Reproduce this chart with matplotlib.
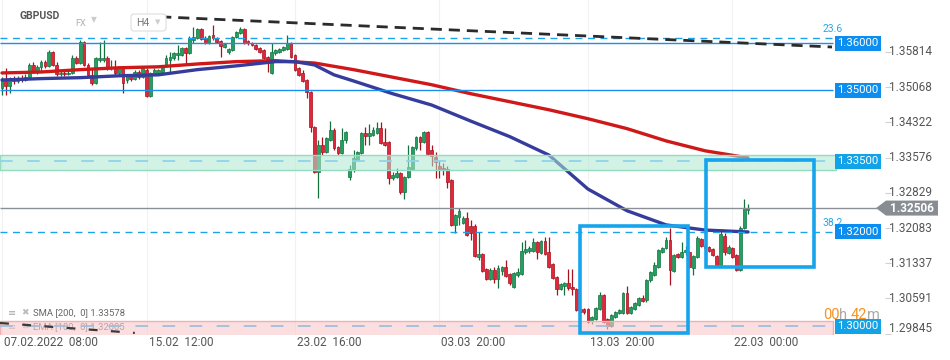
import numpy as np
import matplotlib.pyplot as plt
from matplotlib.colors import to_rgba
from matplotlib.patches import Polygon, Rectangle, FancyBboxPatch
from matplotlib.transforms import IdentityTransform
from matplotlib.offsetbox import TextArea, HPacker, AnnotationBbox

plt.rcParams['font.family'] = ['Roboto', 'DejaVu Sans']

# GBPUSD H4 candles
opens = [1.3505, 1.3522, 1.3510, 1.3525, 1.3520, 1.3527, 1.3522, 1.3529, 1.3554, 1.3539,
         1.3550, 1.3561, 1.3552, 1.3582, 1.3554, 1.3535, 1.3537, 1.3535, 1.3537, 1.3569,
         1.3558, 1.3603, 1.3554, 1.3533, 1.3516, 1.3565, 1.3565, 1.3569, 1.3548, 1.3550,
         1.3537, 1.3548, 1.3522, 1.3531, 1.3525, 1.3539, 1.3529, 1.3544, 1.3488, 1.3535,
         1.3537, 1.3539, 1.3552, 1.3565, 1.3569, 1.3575, 1.3575, 1.3590, 1.3580, 1.3607,
         1.3611, 1.3631, 1.3611, 1.3601, 1.3618, 1.3611, 1.3605, 1.3592, 1.3582, 1.3586,
         1.3614, 1.3622, 1.3631, 1.3605, 1.3601, 1.3597, 1.3590, 1.3586, 1.3571, 1.3537,
         1.3580, 1.3582, 1.3586, 1.3588, 1.3601, 1.3575, 1.3548, 1.3537, 1.3522, 1.3497,
         1.3423, 1.3327, 1.3385, 1.3370, 1.3395, 1.3416, 1.3380, 1.3368, 1.3395, 1.3317,
         1.3334, 1.3353, 1.3368, 1.3410, 1.3404, 1.3406, 1.3410, 1.3421, 1.3391, 1.3391,
         1.3315, 1.3317, 1.3325, 1.3285, 1.3317, 1.3334, 1.3378, 1.3402, 1.3391, 1.3412,
         1.3374, 1.3359, 1.3340, 1.3336, 1.3334, 1.3310, 1.3215, 1.3232, 1.3219,
         1.3230, 1.3213, 1.3213, 1.3147, 1.3154, 1.3122, 1.3101, 1.3120, 1.3101, 1.3118,
         1.3126, 1.3111, 1.3084, 1.3109, 1.3111, 1.3158, 1.3160, 1.3160, 1.3179, 1.3156,
         1.3181, 1.3158, 1.3132, 1.3105, 1.3079, 1.3086, 1.3092, 1.3084, 1.3079, 1.3037,
         1.3037, 1.3037, 1.3012, 1.3016, 1.3037, 1.3067, 1.3016, 1.3001, 1.3020, 1.3028,
         1.3028, 1.3071, 1.3028, 1.3037, 1.3045, 1.3060, 1.3056, 1.3098, 1.3109, 1.3126,
         1.3158, 1.3166, 1.3183, 1.3118, 1.3154, 1.3147, 1.3158, 1.3158, 1.3124, 1.3147,
         1.3185, 1.3170, 1.3168, 1.3164, 1.3149, 1.3130, 1.3192, 1.3156, 1.3166, 1.3151,
         1.3120, 1.3209, 1.3247]
highs = [1.3529, 1.3548, 1.3529, 1.3531, 1.3531, 1.3533, 1.3535, 1.3558, 1.3561, 1.3554,
         1.3565, 1.3565, 1.3586, 1.3584, 1.3561, 1.3541, 1.3541, 1.3541, 1.3575, 1.3573,
         1.3607, 1.3605, 1.3558, 1.3548, 1.3571, 1.3603, 1.3607, 1.3573, 1.3565, 1.3565,
         1.3552, 1.3550, 1.3535, 1.3533, 1.3544, 1.3544, 1.3552, 1.3548, 1.3539, 1.3548,
         1.3546, 1.3552, 1.3575, 1.3582, 1.3582, 1.3597, 1.3592, 1.3592, 1.3616, 1.3635,
         1.3633, 1.3633, 1.3616, 1.3618, 1.3639, 1.3614, 1.3607, 1.3601, 1.3590, 1.3616,
         1.3626, 1.3635, 1.3633, 1.3607, 1.3603, 1.3599, 1.3592, 1.3588, 1.3573, 1.3601,
         1.3588, 1.3590, 1.3595, 1.3618, 1.3603, 1.3577, 1.3550, 1.3544, 1.3525, 1.3499,
         1.3425, 1.3395, 1.3402, 1.3402, 1.3436, 1.3421, 1.3383, 1.3421, 1.3414, 1.3342,
         1.3374, 1.3372, 1.3412, 1.3423, 1.3429, 1.3423, 1.3433, 1.3433, 1.3421, 1.3393,
         1.3327, 1.3336, 1.3327, 1.3319, 1.3385, 1.3383, 1.3404, 1.3404, 1.3414, 1.3414,
         1.3385, 1.3370, 1.3353, 1.3346, 1.3340, 1.3313, 1.3238, 1.3251, 1.3234,
         1.3243, 1.3226, 1.3217, 1.3200, 1.3156, 1.3124, 1.3124, 1.3126, 1.3130, 1.3128,
         1.3141, 1.3113, 1.3115, 1.3124, 1.3179, 1.3183, 1.3170, 1.3187, 1.3181, 1.3183,
         1.3190, 1.3190, 1.3134, 1.3107, 1.3092, 1.3094, 1.3122, 1.3122, 1.3081, 1.3039,
         1.3039, 1.3039, 1.3022, 1.3041, 1.3073, 1.3069, 1.3018, 1.3026, 1.3033, 1.3037,
         1.3073, 1.3086, 1.3043, 1.3052, 1.3062, 1.3067, 1.3101, 1.3118, 1.3137, 1.3164,
         1.3168, 1.3190, 1.3209, 1.3154, 1.3156, 1.3179, 1.3170, 1.3160, 1.3151, 1.3192,
         1.3187, 1.3175, 1.3170, 1.3166, 1.3151, 1.3206, 1.3198, 1.3173, 1.3168, 1.3154,
         1.3213, 1.3270, 1.3260]
lows = [1.3491, 1.3491, 1.3494, 1.3514, 1.3516, 1.3518, 1.3520, 1.3525, 1.3537, 1.3535,
        1.3539, 1.3548, 1.3550, 1.3552, 1.3531, 1.3531, 1.3531, 1.3533, 1.3535, 1.3556,
        1.3556, 1.3552, 1.3531, 1.3512, 1.3514, 1.3561, 1.3561, 1.3544, 1.3544, 1.3533,
        1.3533, 1.3494, 1.3516, 1.3520, 1.3522, 1.3525, 1.3527, 1.3486, 1.3486, 1.3533,
        1.3533, 1.3537, 1.3550, 1.3539, 1.3565, 1.3565, 1.3573, 1.3554, 1.3577, 1.3601,
        1.3609, 1.3607, 1.3599, 1.3599, 1.3607, 1.3601, 1.3571, 1.3590, 1.3577, 1.3584,
        1.3611, 1.3620, 1.3599, 1.3597, 1.3595, 1.3586, 1.3580, 1.3567, 1.3539, 1.3535,
        1.3575, 1.3580, 1.3584, 1.3586, 1.3569, 1.3541, 1.3531, 1.3518, 1.3484, 1.3412,
        1.3325, 1.3272, 1.3363, 1.3368, 1.3393, 1.3374, 1.3363, 1.3365, 1.3389, 1.3310,
        1.3327, 1.3351, 1.3365, 1.3385, 1.3385, 1.3404, 1.3408, 1.3387, 1.3383, 1.3302,
        1.3310, 1.3315, 1.3281, 1.3270, 1.3315, 1.3332, 1.3374, 1.3374, 1.3389, 1.3363,
        1.3340, 1.3315, 1.3315, 1.3321, 1.3293, 1.3213, 1.3198, 1.3215, 1.3217,
        1.3192, 1.3183, 1.3147, 1.3141, 1.3115, 1.3098, 1.3098, 1.3092, 1.3081, 1.3109,
        1.3105, 1.3088, 1.3081, 1.3105, 1.3109, 1.3154, 1.3156, 1.3158, 1.3143, 1.3154,
        1.3151, 1.3124, 1.3101, 1.3067, 1.3077, 1.3067, 1.3077, 1.3067, 1.3033, 1.3028,
        1.3026, 1.3007, 1.3005, 1.3014, 1.3035, 1.3007, 1.2995, 1.2999, 1.3018, 1.3026,
        1.3026, 1.3026, 1.3026, 1.3035, 1.3043, 1.3052, 1.3052, 1.3094, 1.3107, 1.3124,
        1.3156, 1.3164, 1.3088, 1.3115, 1.3145, 1.3145, 1.3151, 1.3124, 1.3109, 1.3145,
        1.3168, 1.3162, 1.3158, 1.3149, 1.3128, 1.3128, 1.3151, 1.3154, 1.3145, 1.3118,
        1.3118, 1.3206, 1.3238]
closes = [1.3522, 1.3510, 1.3525, 1.3520, 1.3527, 1.3522, 1.3529, 1.3554, 1.3539, 1.3550,
          1.3561, 1.3552, 1.3582, 1.3554, 1.3535, 1.3537, 1.3535, 1.3537, 1.3569, 1.3558,
          1.3603, 1.3554, 1.3533, 1.3516, 1.3569, 1.3569, 1.3569, 1.3548, 1.3550, 1.3537,
          1.3548, 1.3516, 1.3531, 1.3525, 1.3539, 1.3529, 1.3548, 1.3488, 1.3537, 1.3544,
          1.3544, 1.3548, 1.3569, 1.3571, 1.3580, 1.3580, 1.3590, 1.3580, 1.3611, 1.3614,
          1.3631, 1.3609, 1.3601, 1.3616, 1.3611, 1.3603, 1.3595, 1.3599, 1.3588, 1.3614,
          1.3624, 1.3631, 1.3601, 1.3601, 1.3597, 1.3588, 1.3582, 1.3569, 1.3558, 1.3582,
          1.3586, 1.3588, 1.3592, 1.3601, 1.3571, 1.3544, 1.3533, 1.3520, 1.3497, 1.3423,
          1.3327, 1.3385, 1.3370, 1.3399, 1.3416, 1.3378, 1.3368, 1.3395, 1.3412, 1.3334,
          1.3357, 1.3370, 1.3410, 1.3404, 1.3410, 1.3416, 1.3421, 1.3389, 1.3385, 1.3315,
          1.3321, 1.3325, 1.3285, 1.3317, 1.3338, 1.3380, 1.3402, 1.3391, 1.3412, 1.3365,
          1.3361, 1.3349, 1.3334, 1.3332, 1.3306, 1.3215, 1.3236, 1.3245, 1.3230,
          1.3194, 1.3198, 1.3149, 1.3154, 1.3118, 1.3101, 1.3120, 1.3101, 1.3124, 1.3126,
          1.3107, 1.3092, 1.3113, 1.3115, 1.3160, 1.3164, 1.3166, 1.3179, 1.3158, 1.3181,
          1.3154, 1.3126, 1.3103, 1.3079, 1.3090, 1.3092, 1.3081, 1.3079, 1.3035, 1.3031,
          1.3031, 1.3010, 1.3020, 1.3039, 1.3067, 1.3010, 1.3001, 1.3024, 1.3031, 1.3035,
          1.3071, 1.3028, 1.3041, 1.3050, 1.3060, 1.3054, 1.3098, 1.3115, 1.3130, 1.3162,
          1.3166, 1.3183, 1.3120, 1.3151, 1.3147, 1.3158, 1.3162, 1.3126, 1.3149, 1.3187,
          1.3170, 1.3166, 1.3160, 1.3151, 1.3130, 1.3196, 1.3158, 1.3168, 1.3147, 1.3120,
          1.3209, 1.3251, 1.3251]

# moving averages, sampled at some bars
sma_bars = [0, 10, 20, 30, 40, 50, 60, 70, 80, 90, 100, 110, 120, 130, 140, 150, 160, 170, 180, 191]
sma200 = [1.3537, 1.3539, 1.3544, 1.3548, 1.3550, 1.3556, 1.3561, 1.3563, 1.3558, 1.3544,
          1.3528, 1.3512, 1.3493, 1.3476, 1.3459, 1.3440, 1.3419, 1.3393, 1.3372, 1.3357]
ema_bars = [0, 10, 20, 30, 40, 50, 60, 70, 75, 80, 85, 90, 100, 110, 120, 130, 140, 150, 155,
            160, 170, 180, 191]
ema100 = [1.3522, 1.3525, 1.3527, 1.3531, 1.3533, 1.3544, 1.3552, 1.3561, 1.3561, 1.3554,
          1.3533, 1.3520, 1.3493, 1.3469, 1.3435, 1.3402, 1.3363, 1.3291, 1.3268, 1.3245,
          1.3215, 1.3204, 1.3200]

tick_bars = [0, 37, 75, 112, 150, 187]
tick_labels = ['07.02.2022  08:00', '15.02  12:00', '23.02  16:00', '03.03  20:00',
               '13.03  20:00', '22.03  00:00']
price_ticks = [1.35814, 1.35068, 1.34322, 1.33576, 1.32829, 1.32083, 1.31337, 1.30591, 1.29845]

solid_levels = [1.36000, 1.35000]
fib_levels = [1.36111, 1.32000]
fib_names = ['23.6', '38.2']
zone = [1.3332, 1.3363, 1.33500]
support = [1.2970, 1.3012, 1.30000]
last_price = 1.32506
top_trend_x = [40.5, 212.5]
top_trend_y = [1.3656, 1.3592]
low_trend_x = [-0.5, 34.0]
low_trend_y = [1.3007, 1.2986]
box1 = [148.0, 175.6, 1.2986, 1.3213]
box2 = [180.2, 207.9, 1.3126, 1.3353]

o = np.array(opens); h = np.array(highs); l = np.array(lows); c = np.array(closes)
x = np.arange(len(c))

fig = plt.figure(figsize=(9.5, 3.6), dpi=100)
ax = fig.add_axes([0, 25/360, 885/950, 335/360])
ax.set_xlim(-0.512, 226.06)
ax.set_ylim(1.29816, 1.36916)
for s in ax.spines.values():
    s.set_visible(False)
ax.set_xticks([])

GREEN, GREEN_E = '#22a060', '#157040'
RED, RED_E = '#e0283a', '#a8101e'
up = c >= o
body_c = np.where(up, GREEN, RED)
edge_c = np.where(up, GREEN_E, RED_E)

for t in tick_bars:
    ax.axvline(t, color='#f1f1f1', lw=0.8, zorder=0)

ax.vlines(x, l, h, colors=edge_c, lw=0.9, zorder=2)
ax.bar(x, np.maximum(np.abs(c - o), 0.00005), bottom=np.minimum(o, c), width=0.72,
       color=body_c, edgecolor=edge_c, linewidth=0.5, zorder=2.1)

ax.plot(sma_bars, sma200, color='#d01818', lw=2.4, zorder=3, solid_capstyle='round')
ax.plot(ema_bars, ema100, color='#353c9c', lw=2.4, zorder=3.1, solid_capstyle='round')

XR = 212.75  # right end of level lines
# zones
ax.add_patch(Rectangle((-0.6, zone[0]), 214.0, zone[1] - zone[0], fc=to_rgba('#aee9d3', 0.55),
                       ec='#92dcc0', lw=1, zorder=4))
ax.hlines(zone[2], -0.5, XR, colors='#8fd3ec', lw=1.3, linestyles=(0, (7, 8)), zorder=4.1)
ax.add_patch(Rectangle((-0.6, support[0]), 213.4, support[1] - support[0],
                       fc=to_rgba('#f9c9cb', 0.6), ec='#f2b0b2', lw=1, zorder=4))
ax.hlines(support[2], -0.5, XR, colors='#9ebfdc', lw=1.3, linestyles=(0, (7, 8)), zorder=4.1)

for lv in solid_levels:
    ax.hlines(lv, -0.5, XR, colors='#1a8ff0', lw=1.0, zorder=5)
for lv, nm in zip(fib_levels, fib_names):
    ax.hlines(lv, -0.5, XR, colors='#1aa3e8', lw=1.0, linestyles=(0, (5, 4)), zorder=5)
    ax.annotate(nm, xy=(XR, lv), xytext=(0, 9), textcoords='offset pixels', ha='center',
                va='center', fontsize=7.5, color='#2aa8e6', zorder=7)
ax.hlines(last_price, -0.5, 224.0, colors='#8a9096', lw=1.0, zorder=5)

ax.plot(top_trend_x, top_trend_y, color='#2b2b2b', lw=2, ls=(0, (4, 2.5)), zorder=5)
ax.plot(low_trend_x, low_trend_y, color='#3a3a3a', lw=1.6, ls=(0, (4, 6)), zorder=5)

for b in (box1, box2):
    ax.add_patch(Rectangle((b[0], b[2]), b[1] - b[0], b[3] - b[2], fill=False,
                           ec='#16a5ec', lw=2.6, zorder=6))

# level tags on the right
tags = [(1.36000, '#0b8ef0'), (1.35000, '#0b8ef0'), (zone[2], '#12a2e8'),
        (1.32000, '#0b8ef0'), (support[2], '#12a2e8')]
for lv, col in tags:
    ax.annotate('%.5f' % lv, xy=(XR, lv), xytext=(4, 0), textcoords='offset pixels',
                ha='left', va='center', fontsize=8.2, color='white', zorder=8,
                bbox=dict(boxstyle='square,pad=0.22', fc=col, ec='none'))

# price axis
ax.yaxis.tick_right()
ax.set_yticks(price_ticks)
ax.tick_params(axis='y', length=4, color='#d0d0d0', width=0.8, labelright=False)
for i, v in enumerate(price_ticks):
    dy = 5 if i == len(price_ticks) - 1 else 0
    ax.annotate('%.5f' % v, xy=(1, v), xycoords=('axes fraction', 'data'), xytext=(4, dy),
                textcoords='offset pixels', ha='left', va='center', fontsize=8.5,
                color='#555555', annotation_clip=False)

for t, lab in zip(tick_bars, tick_labels):
    ax.annotate(lab, xy=(t, 0), xycoords=('data', 'axes fraction'), xytext=(2, -8),
                textcoords='offset pixels', ha='left', va='center', fontsize=8.5,
                color='#555555', annotation_clip=False)

fig.canvas.draw()
yc = ax.transData.transform((0, last_price))[1]
tag = Polygon([(876, yc), (886, yc + 7.5), (938, yc + 7.5), (938, yc - 7.5), (886, yc - 7.5)],
              closed=True, fc='#878d92', ec='none', transform=IdentityTransform())
fig.add_artist(tag)
fig.text(912 / 950, yc / 360, '%.5f' % last_price, ha='center', va='center', fontsize=8.5,
         color='white', fontweight='bold')

# header
fig.text(20 / 950, 1 - 16 / 360, 'GBPUSD', ha='left', va='center', fontsize=7.5,
         fontweight='bold', color='#555555')
fig.text(75 / 950, 1 - 23 / 360, 'FX', ha='left', va='center', fontsize=6.5, color='#b0b0b0')
fig.text(94 / 950, 1 - 20 / 360, '▼', ha='center', va='center', fontsize=5.5, color='#cccccc',
         family='DejaVu Sans')
fig.add_artist(FancyBboxPatch((131, 360 - 31), 35, 17, boxstyle='round,pad=0,rounding_size=3',
                              fc='white', ec='#dddddd', lw=0.8, transform=IdentityTransform()))
fig.text(136 / 950, 1 - 22.5 / 360, 'H4', ha='left', va='center', fontsize=7.5, color='#777777')
fig.text(158 / 950, 1 - 22 / 360, '▼', ha='center', va='center', fontsize=5, color='#cccccc',
         family='DejaVu Sans')

# indicator legend bottom-left
for row, txt in ((313, 'SMA [200,  0] 1.33578'), (327, 'EMA [100,  0] 1.32005')):
    ax.annotate('≡', xy=(8, 360 - row), xycoords='figure pixels', ha='left', va='center',
                fontsize=7, color='#aaaaaa', family='DejaVu Sans', zorder=3.5)
    ax.annotate('✖', xy=(21, 360 - row), xycoords='figure pixels', ha='left', va='center',
                fontsize=6.5, color='#bbbbbb', family='DejaVu Sans', zorder=3.5)
    ax.annotate(txt, xy=(33, 360 - row), xycoords='figure pixels', ha='left', va='center',
                fontsize=6.8, color='#666666', zorder=3.5)

# bar countdown
parts = [TextArea('00', textprops=dict(color='#f7931e', fontsize=10.5)),
         TextArea('h ', textprops=dict(color='#aaaaaa', fontsize=10.5)),
         TextArea('42', textprops=dict(color='#f7931e', fontsize=10.5)),
         TextArea('m', textprops=dict(color='#aaaaaa', fontsize=10.5))]
cd = AnnotationBbox(HPacker(children=parts, pad=0, sep=0), (880, 360 - 315),
                    xycoords='figure pixels', box_alignment=(1, 0.5), frameon=False, pad=0,
                    zorder=9, annotation_clip=False)
ax.add_artist(cd)

fig.savefig('out.png', dpi=100)
